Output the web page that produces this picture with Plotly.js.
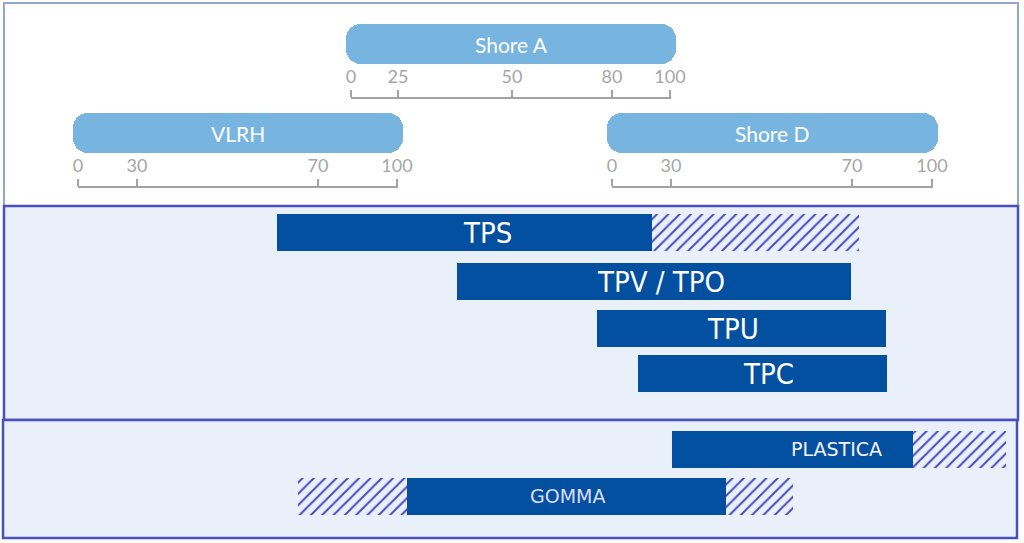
<!DOCTYPE html>
<html>
<head>
<meta charset="utf-8">
<script src="https://cdn.plot.ly/plotly-3.0.1.min.js"></script>
<style>html,body{margin:0;padding:0;background:#fff;}#chart{width:1024px;height:543px;}</style>
</head>
<body>
<div id="chart"></div>
<script>
// ---------- data (common hardness continuum, shared by all scales) ----------
const scaleNames   = ['Shore A', 'VLRH', 'Shore D'];
const shoreATicks  = [0, 25, 50, 80, 100];
const shoreAAt     = [351, 398, 512, 612, 670];
const vlrhTicks    = [0, 30, 70, 100];
const vlrhAt       = [78, 137, 318, 397];
const shoreDTicks  = [0, 30, 70, 100];
const shoreDAt     = [612, 671, 852, 932];

const materials = ['TPS', 'TPV / TPO', 'TPU', 'TPC', 'PLASTICA', 'GOMMA'];
const coreFrom  = [277, 457, 597, 638, 672, 407];
const coreTo    = [652, 851, 886, 887, 913, 726];
const extFrom   = [null, null, null, null, null, 298];   // hatched extension below the core range
const extTo     = [859, null, null, null, 1006, 793];    // hatched extension above the core range

// ---------- layout helpers ----------
const W = 1024, H = 543;
const rowY   = [232, 281, 328, 373, 449, 496];
const labelX = [487, 661, 733, 768, 836, 567];
const scaleRows = [
  {name: scaleNames[0], ticks: shoreATicks, at: shoreAAt, pillY: 44,  lineY: 97},
  {name: scaleNames[1], ticks: vlrhTicks,   at: vlrhAt,   pillY: 133, lineY: 186},
  {name: scaleNames[2], ticks: shoreDTicks, at: shoreDAt, pillY: 133, lineY: 186}
];
const BAR = '#0450a0', HATCH = '#4747c2', BOXFILL = '#e9f0f9', PILL = '#77b4e0';

const traces = [];
const annotations = [];
const layout = {
  width: W, height: H, autosize: false,
  margin: {l: 0, r: 0, t: 0, b: 0, pad: 0},
  paper_bgcolor: '#ffffff', plot_bgcolor: 'rgba(0,0,0,0)',
  showlegend: false, barmode: 'overlay', bargap: 0,
  hovermode: false,
  xaxis: {range: [0, W], visible: false, fixedrange: true},
  yaxis: {range: [H, 0], visible: false, fixedrange: true},
  shapes: [
    {type: 'rect', xref: 'x', yref: 'y', x0: 4, x1: 1018, y0: 3, y1: 206, layer: 'below',
     fillcolor: '#ffffff', line: {color: '#8fa8cc', width: 2}},
    {type: 'rect', xref: 'x', yref: 'y', x0: 4, x1: 1018, y0: 206, y1: 420, layer: 'below',
     fillcolor: BOXFILL, line: {color: '#4a4fc0', width: 2.5}},
    {type: 'rect', xref: 'x', yref: 'y', x0: 3, x1: 1017, y0: 420, y1: 538, layer: 'below',
     fillcolor: BOXFILL, line: {color: '#4a4fc0', width: 2.5}}
  ],
  annotations: annotations
};

// ---------- scale pills + scale axes ----------
scaleRows.forEach((s, k) => {
  const lo = s.at[0], hi = s.at[s.at.length - 1];
  const p0 = lo - 5, p1 = hi + 6, mid = (p0 + p1) / 2;
  traces.push({type: 'bar', orientation: 'h', y: [s.pillY], x: [p1 - p0], base: [p0], width: 40,
    marker: {color: PILL, cornerradius: 15, line: {width: 0}}, hoverinfo: 'skip'});
  annotations.push({x: mid, y: s.pillY, xref: 'x', yref: 'y', text: s.name, showarrow: false,
    font: {family: 'Lato, Noto Sans, sans-serif', size: 21, color: '#ffffff'}});
  const ax = 'xaxis' + (k + 2);
  layout[ax] = {
    domain: [(lo - 0.5) / W, (hi + 0.5) / W], range: [lo - 0.5, hi + 0.5],
    anchor: 'free', position: 1 - s.lineY / H, side: 'top',
    showline: true, linecolor: '#a3a3a3', linewidth: 1.5,
    ticks: 'outside', ticklen: 7, tickwidth: 1.5, tickcolor: '#a3a3a3',
    tickmode: 'array', tickvals: s.at, ticktext: s.ticks.map(String),
    tickfont: {family: 'Lato, Noto Sans, sans-serif', size: 18, color: '#a6a6a6'},
    showgrid: false, zeroline: false, fixedrange: true
  };
  traces.push({type: 'scatter', x: [lo], y: [0], xaxis: 'x' + (k + 2), yaxis: 'y',
    mode: 'markers', marker: {opacity: 0}, hoverinfo: 'skip'});
});

// ---------- material bars ----------
traces.push({type: 'bar', orientation: 'h', y: rowY,
  base: coreFrom, x: coreTo.map((t, i) => t - coreFrom[i]), width: 37,
  marker: {color: BAR, line: {width: 0}}, hoverinfo: 'skip'});

const hb = [], hx = [], hy = [];
materials.forEach((m, i) => {
  if (extFrom[i] !== null) { hb.push(extFrom[i]); hx.push(coreFrom[i] - extFrom[i]); hy.push(rowY[i]); }
  if (extTo[i] !== null)   { hb.push(coreTo[i]);  hx.push(extTo[i] - coreTo[i]);     hy.push(rowY[i]); }
});
traces.push({type: 'bar', orientation: 'h', y: hy, base: hb, x: hx, width: 37,
  marker: {color: HATCH, line: {width: 0},
    pattern: {shape: '/', fgcolor: HATCH, bgcolor: BOXFILL, fillmode: 'replace', size: 8, solidity: 0.24}},
  hoverinfo: 'skip'});

materials.forEach((m, i) => {
  const big = i < 4;
  annotations.push({x: labelX[i], y: rowY[i] + (big ? 1 : 0), xref: 'x', yref: 'y', text: m, showarrow: false,
    font: big ? {family: 'DejaVu Sans Condensed, Liberation Sans Narrow, DejaVu Sans, sans-serif', size: 29, color: '#ffffff'}
              : {family: 'DejaVu Sans, Verdana, sans-serif', size: 19, color: m === 'GOMMA' ? '#dcdcff' : '#f4f2ff'}});
});

Plotly.newPlot('chart', traces, layout, {staticPlot: true, displayModeBar: false});
</script>
</body>
</html>
